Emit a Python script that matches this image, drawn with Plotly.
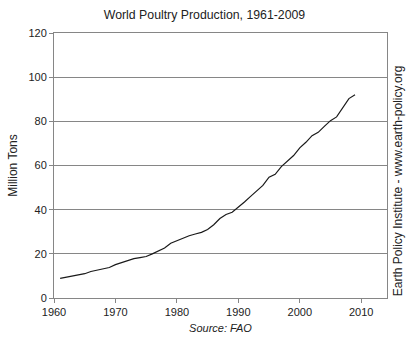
import plotly.graph_objects as go

# World poultry meat production (million tons), FAO
years = list(range(1961, 2010))
production = [
    8.9, 9.4, 9.8, 10.2, 11.0, 12.0, 12.5, 13.0, 13.8, 15.1,
    16.1, 17.0, 17.8, 18.3, 18.8, 20.0, 21.2, 22.6, 24.8, 26.0,
    27.2, 28.2, 29.0, 29.7, 31.0, 33.2, 36.0, 37.8, 38.8, 41.0,
    43.5, 46.0, 48.3, 51.0, 54.7, 56.0, 59.5, 62.0, 64.5, 68.0,
    70.5, 73.5, 75.0, 77.7, 80.3, 82.0, 86.2, 90.3, 92.0,
]
x_ticks = [1960, 1970, 1980, 1990, 2000, 2010]
y_ticks = [0, 20, 40, 60, 80, 100, 120]

font_family = "Liberation Sans, Arial, sans-serif"
axis_gray = "#868686"

fig = go.Figure()
fig.add_trace(go.Scatter(
    x=years, y=production, mode="lines",
    line=dict(color="#1a1a1a", width=1.2),
    showlegend=False, hoverinfo="skip",
))

fig.update_layout(
    width=409, height=345,
    margin=dict(l=50, r=22, t=33, b=42),
    paper_bgcolor="white", plot_bgcolor="white",
    font=dict(family=font_family, size=11, color="#222222"),
    title=dict(
        text="World Poultry Production, 1961-2009",
        x=0.5, xanchor="center", y=1 - 15 / 345, yanchor="middle",
        font=dict(size=12.3, color="#222222", family=font_family),
    ),
    xaxis=dict(
        range=[1960, 2014.2], tickvals=x_ticks,
        showgrid=False, zeroline=False,
        showline=True, linecolor=axis_gray, linewidth=1, mirror=True,
        ticks="outside", ticklen=4, tickcolor=axis_gray,
        tickfont=dict(size=11, color="#222222"),
        title=dict(text="<i>Source: FAO</i>", font=dict(size=11), standoff=7),
    ),
    yaxis=dict(
        range=[0, 120], tickvals=y_ticks,
        showgrid=True, gridcolor=axis_gray, gridwidth=1, zeroline=False,
        showline=True, linecolor=axis_gray, linewidth=1, mirror=True,
        ticks="outside", ticklen=4, tickcolor=axis_gray,
        tickfont=dict(size=11, color="#222222"),
        title=dict(text="Million Tons", font=dict(size=12), standoff=8),
    ),
    annotations=[
        dict(
            text="Earth Policy Institute - www.earth-policy.org",
            xref="paper", yref="paper",
            x=1 + 11 / 337, y=0.444,
            xanchor="center", yanchor="middle",
            textangle=-90, showarrow=False,
            font=dict(size=12, color="#222222", family=font_family),
        )
    ],
)

fig.write_html("out.html")
